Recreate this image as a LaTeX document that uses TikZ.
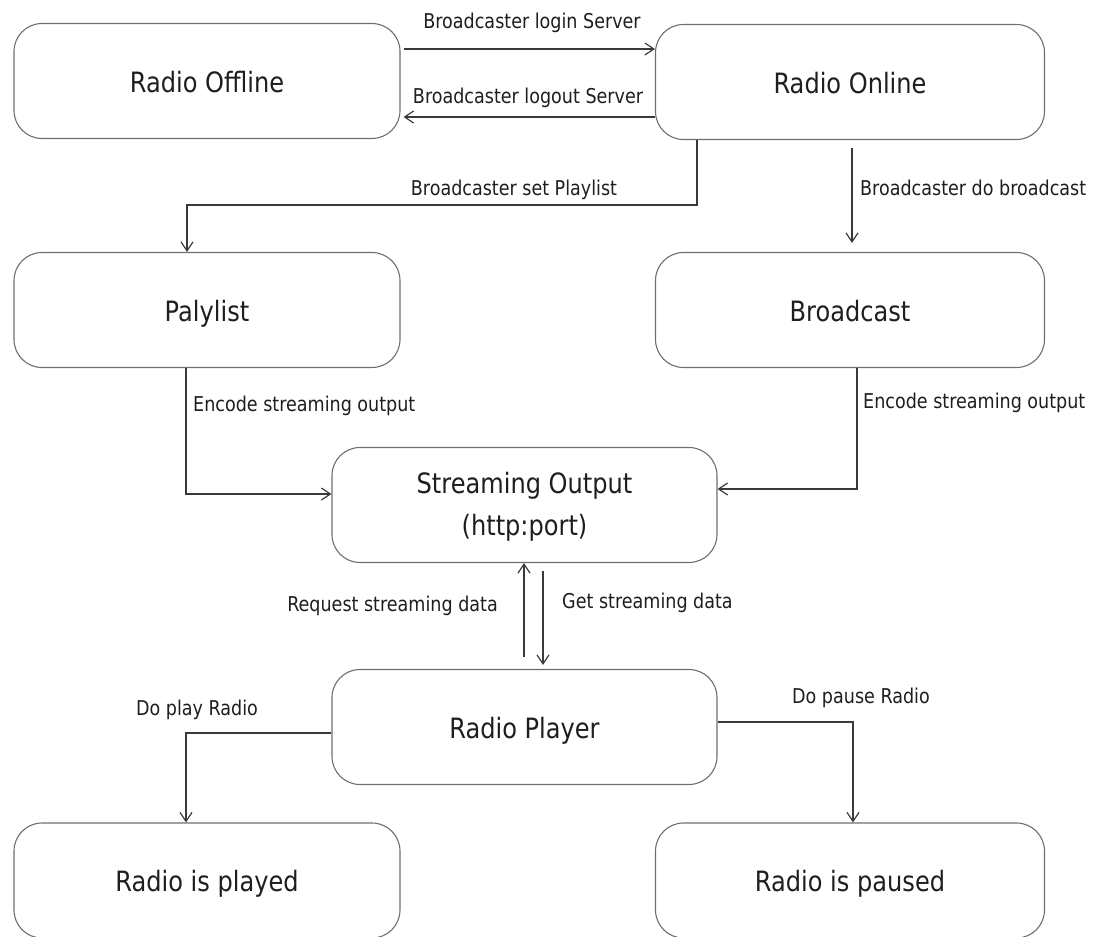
\documentclass[tikz,border=0pt]{standalone}
\usepackage{fontspec}
\setmainfont[FakeStretch=0.86]{DejaVu Sans}
\usetikzlibrary{arrows.meta}
\definecolor{boxc}{HTML}{6E6E6E}
\definecolor{linec}{HTML}{3A3A3A}
\definecolor{textc}{HTML}{1E1E1E}
\newcommand\boxfont{\fontsize{28}{40}\selectfont}
\newcommand\labfont{\fontsize{20.4}{24}\selectfont}
\begin{document}
\begin{tikzpicture}[x=1pt,y=-1pt,
  statebox/.style={draw=boxc, line width=1.1pt, rounded corners=28pt,
    minimum width=386pt, minimum height=115pt, inner sep=0pt,
    font=\boxfont, text=textc, align=center},
  onebox/.style={statebox, text height=22pt, text depth=0pt},
  arr/.style={draw=linec, line width=1.2pt, -{Straight Barb[length=9pt,width=12pt]}},
  lab/.style={font=\labfont, text=textc, inner sep=0pt}]
\useasboundingbox (0,0) rectangle (1096,937);

% states
\node[onebox] (off) at (207,81) {Radio Offline};
\node[onebox, minimum width=389pt] (on) at (850,82) {Radio Online};
\node[onebox] (pl) at (207,310) {Palylist};
\node[onebox, minimum width=389pt] (bc) at (850,310) {Broadcast};
\node[statebox, minimum width=385pt, text depth=3pt] (so) at (524.5,505) {Streaming Output\\[2pt](http:port)};
\node[onebox, minimum width=385pt] (rp) at (524.5,727) {Radio Player};
\node[onebox] (played) at (207,880.5) {Radio is played};
\node[onebox, minimum width=389pt] (paused) at (850,880.5) {Radio is paused};

% server login / logout
\draw[arr, shorten <=3pt] (off.east |- 0,49) -- (on.west |- 0,49);
\node[lab, anchor=base] (l1) at (532,28) {Broadcaster login Server};
\draw[arr, shorten >=3pt] (on.west |- 0,117) -- (off.east |- 0,117);
\node[lab, anchor=base] (l2) at (528,103.5) {Broadcaster logout Server};

% playlist / broadcast
\draw[arr] (on.south -| 697,0) -- (697,205) -| (pl.north -| 187,0);
\node[lab, anchor=base] (l3) at (514,195) {Broadcaster set Playlist};
\draw[arr, shorten <=8pt, shorten >=9pt] (on.south -| 852,0) -- (bc.north -| 852,0);
\node[lab, anchor=base west] (l4) at (860,195) {Broadcaster do broadcast};

% encoding into the stream
\draw[arr] (pl.south -| 186,0) |- (so.west |- 0,494);
\node[lab, anchor=base west] (l5) at (193,411) {Encode streaming output};
\draw[arr] (bc.south -| 857,0) |- (so.east |- 0,489);
\node[lab, anchor=base west] (l6) at (863,408) {Encode streaming output};

% player <-> stream
\draw[arr, shorten <=12pt] (rp.north -| 524,0) -- (so.south -| 524,0);
\node[lab, anchor=base east] (l7) at (498,611) {Request streaming data};
\draw[arr, shorten <=8pt, shorten >=4pt] (so.south -| 543,0) -- (rp.north -| 543,0);
\node[lab, anchor=base west] (l8) at (562,608) {Get streaming data};

% play / pause
\draw[arr] (rp.west |- 0,733) -| (played.north -| 186,0);
\node[lab, anchor=base] (l9) at (197,715) {Do play Radio};
\draw[arr] (rp.east |- 0,722) -| (paused.north -| 853,0);
\node[lab, anchor=base] (l10) at (861,703) {Do pause Radio};
\end{tikzpicture}
\end{document}
